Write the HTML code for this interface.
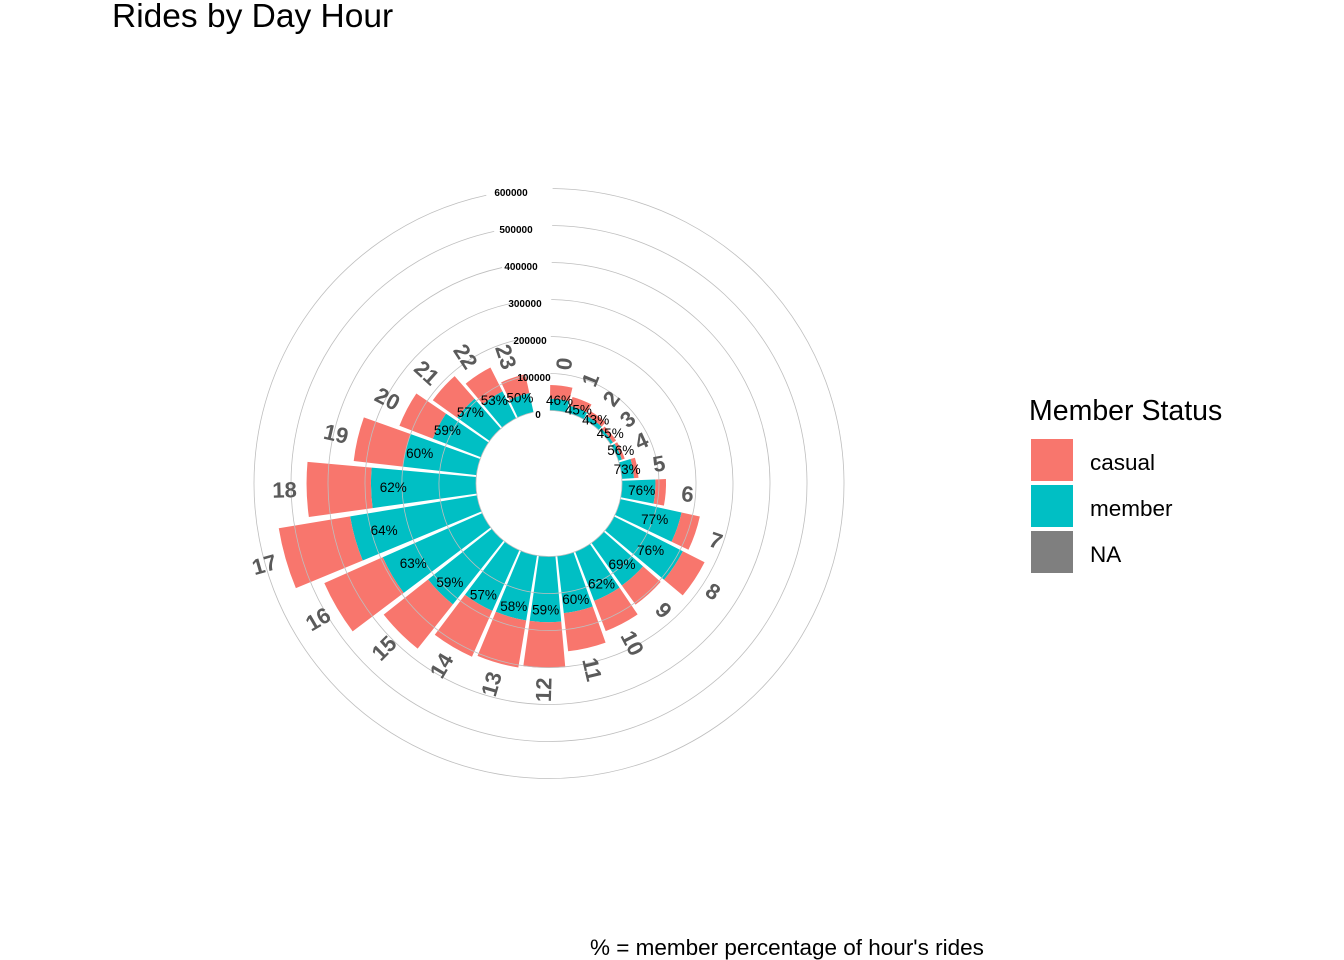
<!DOCTYPE html>
<html><head><meta charset="utf-8"><style>
html,body{margin:0;padding:0;background:#fff;}
svg{display:block;font-family:"Liberation Sans",Arial,sans-serif;}
</style></head><body>
<svg id="s" width="1344" height="960" viewBox="0 0 1344 960" xmlns="http://www.w3.org/2000/svg">
<rect width="1344" height="960" fill="#fff"/>
<g id="bars"></g>
<g id="grid" fill="none" stroke="#BEBEBE" stroke-width="0.8"></g>
<g id="ticks" font-size="10" font-weight="bold" fill="#000" text-anchor="middle"></g>
<g id="pct" font-size="13.5" fill="#000" text-anchor="middle"></g>
<g id="hrs" font-size="22" font-weight="bold" fill="#5a5a5a" text-anchor="middle"></g>
<text x="112" y="27" font-size="33.5" fill="#000">Rides by Day Hour</text>
<text x="1029" y="420" font-size="28.5" fill="#000">Member Status</text>
<rect x="1031" y="439" width="42" height="42" fill="#F8766D"/>
<rect x="1031" y="485" width="42" height="42" fill="#00BFC4"/>
<rect x="1031" y="531" width="42" height="42" fill="#7F7F7F"/>
<text x="1090" y="470" font-size="22.5" fill="#000">casual</text>
<text x="1090" y="516" font-size="22.5" fill="#000">member</text>
<text x="1090" y="562" font-size="22.5" fill="#000">NA</text>
<text x="590" y="955" font-size="22.5" fill="#000">% = member percentage of hour's rides</text>
</svg>
<script>
(function(){
var NS="http://www.w3.org/2000/svg";
var cx=549,cy=483.5,r0=73,k=0.00037;
var data=[[69,46],[45,45],[28,43],[18,45],[18,56],[45,73],[119,76],[220,77],[274,76],[205,69],[230,62],[259,60],[301,59],[307,58],[315,57],[373,59],[467,63],[543,64],[458,62],[334,60],[236,59],[189,57],[154,53],[105,50]];
function pt(r,a){var t=a*Math.PI/180;return [cx+r*Math.sin(t),cy-r*Math.cos(t)];}
function sector(ri,ro,a1,a2){
 var p1=pt(ri,a1),p2=pt(ro,a1),p3=pt(ro,a2),p4=pt(ri,a2);
 var lg=(a2-a1)>180?1:0;
 return "M"+p1+" L"+p2+" A"+ro+" "+ro+" 0 "+lg+" 1 "+p3+" L"+p4+" A"+ri+" "+ri+" 0 "+lg+" 0 "+p1+" Z";
}
function el(tag,attrs,parent,txt){var e=document.createElementNS(NS,tag);for(var a in attrs)e.setAttribute(a,attrs[a]);if(txt!==undefined)e.textContent=txt;document.getElementById(parent).appendChild(e);return e;}
var u=14.52,w=13.07,off=0.7;
data.forEach(function(d,h){
 var tot=d[0]*1000,m=tot*d[1]/100;
 var a1=off+h*u,a2=a1+w,ac=a1+w/2;
 var rm=r0+k*m,rt=r0+k*tot;
 el("path",{d:sector(r0,rm,a1,a2),fill:"#00BFC4"},"bars");
 el("path",{d:sector(rm,rt,a1,a2),fill:"#F8766D"},"bars");
 var lr=r0+k*tot/2-2; if(lr<79)lr=79;
 var p=pt(lr,ac);
 el("text",{x:p[0].toFixed(1),y:(p[1]+4.5).toFixed(1)},"pct",d[1]+"%");
 var hr=rt+22; var q=pt(hr,ac);
 var rot=ac-90; if(rot>90)rot-=180; if(rot<-90)rot+=180;
 el("text",{x:q[0].toFixed(1),y:q[1].toFixed(1),transform:"rotate("+rot.toFixed(1)+" "+q[0].toFixed(1)+" "+q[1].toFixed(1)+")",dy:"7.5"},"hrs",String(h));
});
var aEnd=off+23*u+w;
for(var i=0;i<=6;i++){
 var r=r0+k*i*100000;
 var p1=pt(r,off),p2=pt(r,aEnd);
 el("path",{d:"M"+p1+" A"+r+" "+r+" 0 1 1 "+p2},"grid");
}
var tx=[538,534,530,525,521,516,511];
var lab=["0","100000","200000","300000","400000","500000","600000"];
for(var i=0;i<=6;i++){
 var r=r0+k*i*100000;
 el("text",{x:tx[i],y:(cy-r+7.5).toFixed(1)},"ticks",lab[i]);
}
})();
</script>
</body></html>
